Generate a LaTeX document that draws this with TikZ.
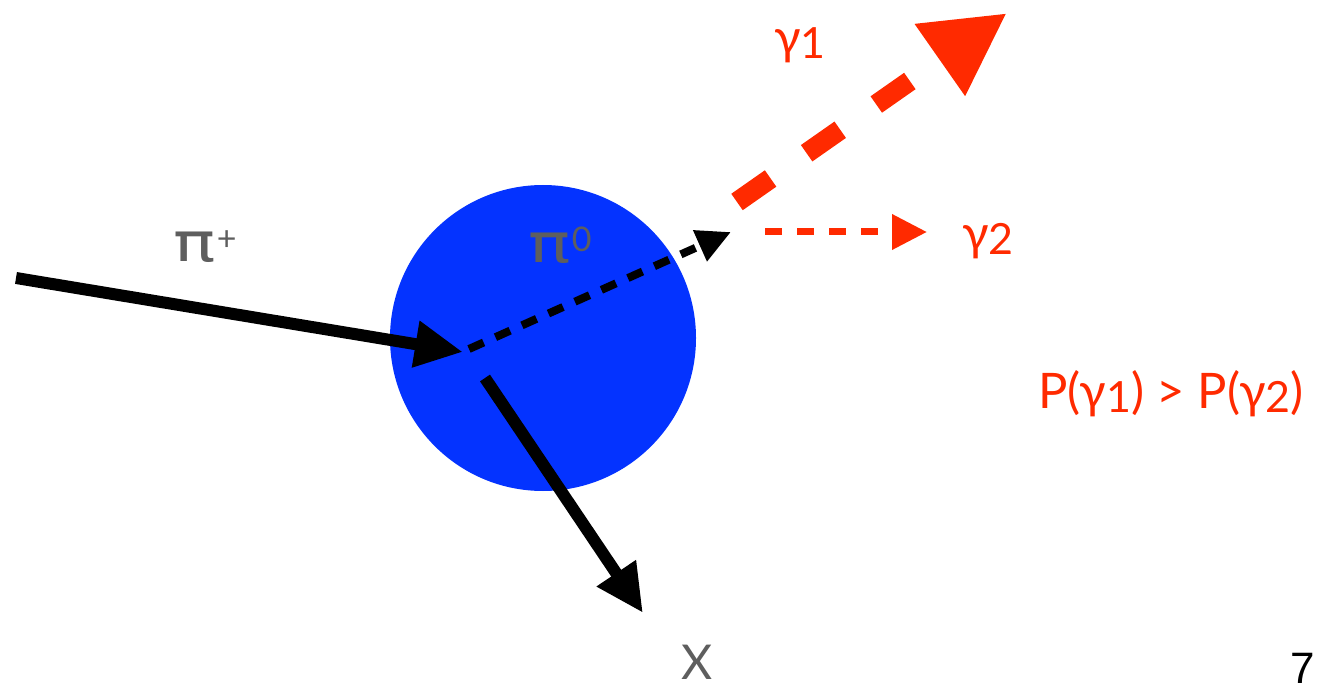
\documentclass[tikz,border=0pt]{standalone}
\usepackage{fontspec}
\setmainfont{Lato}
\newfontfamily\numfont{Liberation Sans}
\newfontfamily\greekfont{DejaVu Sans}
\usetikzlibrary{arrows.meta}
\definecolor{phred}{RGB}{255,42,0}
\definecolor{phblue}{RGB}{4,51,255}
\definecolor{phgray}{RGB}{94,94,94}
\tikzset{
  lbl/.style={inner sep=0pt, font=\fontsize{49}{52}\selectfont},
  graylbl/.style={lbl, text=phgray},
  redlbl/.style={lbl, text=phred},
  thickarrow/.style={line width=12pt, -{Triangle[length=48pt,width=44pt]}},
  pizeroline/.style={line width=8pt, dash pattern=on 16pt off 13pt, -{Triangle[length=34pt,width=32pt]}},
  gammaone/.style={phred, line width=20pt, dash pattern=on 41pt off 44pt, -{Triangle[length=82pt,width=82pt]}},
  gammatwo/.style={phred, line width=7pt, dash pattern=on 17pt off 15pt, -{Triangle[length=35pt,width=34pt]}},
}
\newcommand{\gsub}[1]{\raisebox{-0.08em}{\fontsize{43}{45}\selectfont #1}}
\newcommand{\pisym}[1]{\scalebox{1.3}[1]{\greekfont\fontsize{54}{56}\selectfont π}\kern1pt\raisebox{11pt}{\fontsize{34}{36}\selectfont #1}}
\begin{document}
\begin{tikzpicture}[x=1pt,y=-1pt]
\useasboundingbox (0,0) rectangle (1317,684);
\node[circle, fill=phblue, minimum size=306pt, inner sep=0pt] (blob) at (543,338) {};
\coordinate (pstart) at (16,278);
\coordinate (vtx) at (463,352);
\coordinate (pistart) at (469,349);
\coordinate (pitip) at (731,232);
\coordinate (xstart) at (485,378);
\coordinate (xtip) at (643,613);
\coordinate (gonestart) at (737,202);
\coordinate (gonetip) at (1007,13);
\coordinate (gtwostart) at (765,232);
\coordinate (gtwotip) at (927,232);
\draw[thickarrow] (pstart) -- (vtx);
\draw[pizeroline] (pistart) -- (pitip);
\draw[thickarrow] (xstart) -- (xtip);
\draw[gammaone] (gonestart) -- (gonetip);
\draw[gammatwo] (gtwostart) -- (gtwotip);
\node[graylbl] (piplus) at (205,247) {\pisym{+}};
\node[graylbl] (pizero) at (560,245) {\pisym{0}};
\node[redlbl] (gone) at (800,45) {γ\gsub{1}};
\node[redlbl] (gtwo) at (988,241) {γ\gsub{2}};
\node[redlbl] (prob) at (1171,394) {P(γ\gsub{1}) > P(γ\gsub{2})};
\node[graylbl, font=\fontsize{48}{50}\selectfont] (xlbl) at (697,662) {X};
\node[lbl, font=\numfont\fontsize{44}{48}\selectfont] (pagenum) at (1303,668) {7};
\end{tikzpicture}
\end{document}
